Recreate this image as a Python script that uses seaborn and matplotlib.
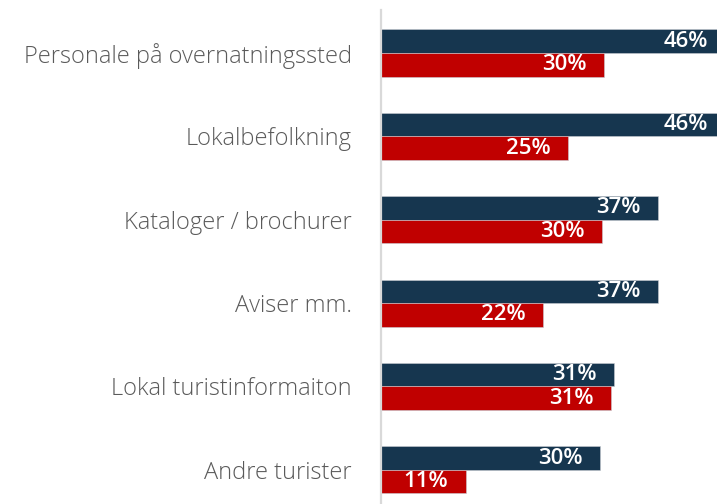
import pandas as pd
import matplotlib.pyplot as plt
import seaborn as sns

# ── Data ──────────────────────────────────────────────────────────────────
categories = [
    'Personale på overnatningssted',
    'Lokalbefolkning',
    'Kataloger / brochurer',
    'Aviser mm.',
    'Lokal turistinformaiton',
    'Andre turister',
]
serie_1 = [46.3, 46.3, 37.3, 37.3, 31.3, 29.5]
serie_2 = [30.0, 25.2, 29.8, 21.8, 31.0, 11.4]
labels_1 = ['46%', '46%', '37%', '37%', '31%', '30%']
labels_2 = ['30%', '25%', '30%', '22%', '31%', '11%']

df = pd.DataFrame({
    'kategori': categories * 2,
    'andel': serie_1 + serie_2,
    'serie': ['Serie 1'] * len(categories) + ['Serie 2'] * len(categories),
})

# ── Plot ──────────────────────────────────────────────────────────────────
sns.set_style('white')
plt.rcParams['font.family'] = ['Open Sans', 'DejaVu Sans']

fig = plt.figure(figsize=(7.17, 5.04), dpi=100)
ax = fig.add_axes([381 / 717, 0, 1 - 381 / 717, 494 / 504])

sns.barplot(
    data=df, y='kategori', x='andel', hue='serie',
    palette=['#16364f', '#c00000'], saturation=1, width=0.565,
    orient='h', legend=False, ax=ax,
    edgecolor='#c8ccd2', linewidth=0.4,
)

ax.set_xlim(0, (717 - 381) / 7.43)
ax.set_ylim(5.41, -0.516)

for container, labels in zip(ax.containers, [labels_1, labels_2]):
    for bar, lab in zip(container, labels):
        ax.annotate(
            lab, (bar.get_width(), bar.get_y() + bar.get_height() / 2),
            xytext=(-12.5, 0), textcoords='offset points',
            ha='right', va='center', color='white',
            fontsize=16, fontweight='semibold', annotation_clip=False,
        )

ax.set_xlabel('')
ax.set_ylabel('')
ax.set_xticks([])
ax.tick_params(axis='y', length=0, pad=21, labelsize=17, labelcolor='#5a5a5a')
for lab in ax.get_yticklabels():
    lab.set_fontweight('light')

for side in ['top', 'right', 'bottom']:
    ax.spines[side].set_visible(False)
ax.spines['left'].set_color('#d9d9d9')
ax.spines['left'].set_linewidth(1.6)

plt.savefig('out.png', dpi=100)
